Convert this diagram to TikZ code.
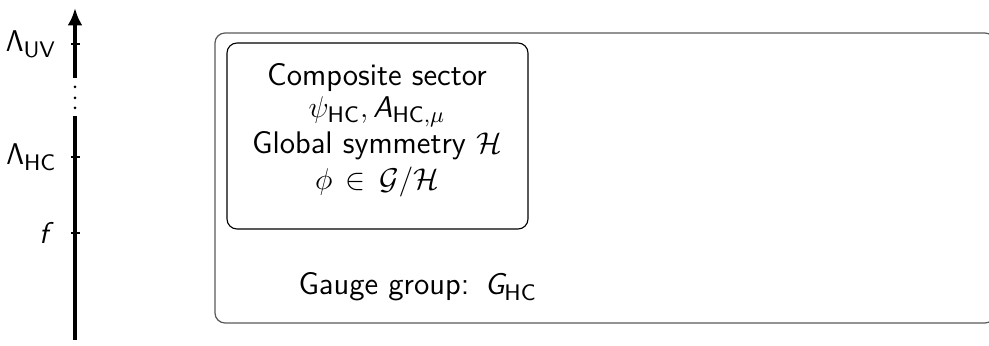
\documentclass[tikz,border=0pt]{standalone}
\usetikzlibrary{arrows.meta}
\renewcommand{\familydefault}{\sfdefault}
\DeclareMathAlphabet{\mathsfit}{OT1}{cmss}{m}{sl}
\newcommand{\hcsub}{\mathsf{HC}}
\begin{document}
\begin{tikzpicture}[x=0.4pt,y=-0.4pt,
  every node/.style={font=\fontsize{12.5}{15}\selectfont},
  scaleline/.style={line width=1.7pt},
  tickmark/.style={line width=0.45pt},
  scalelabel/.style={anchor=east, inner sep=0pt},
  outerbox/.style={draw=black!65, line width=0.5pt, rounded corners=4pt},
  innerbox/.style={draw=black, line width=0.45pt, rounded corners=4pt, align=center, inner sep=0pt}]
\useasboundingbox (0,0) rectangle (989,346);

% energy scale
\coordinate (bot) at (75,340);
\coordinate (gapL) at (75,116);
\coordinate (gapU) at (75,78);
\coordinate (top) at (75,8);
\draw[scaleline] (bot) -- (gapL);
\draw[scaleline, -{Latex[length=7pt,width=6pt]}] (gapU) -- (top);
\foreach \yy in {87,98,108} \fill (75,\yy) circle (0.6pt);

\foreach \yy/\nm in {44/uv,157/hc,233/ff} {
  \coordinate (\nm) at (75,\yy);
  \draw[tickmark] (71,\yy) -- (80,\yy);
}
\node[scalelabel] (luv) at (57,44) {$\mathsf{\Lambda}_{\mathsf{UV}}$};
\node[scalelabel] (lhc) at (57,157) {$\mathsf{\Lambda}_{\hcsub}$};
\node[scalelabel] (lf) at (55,233) {$\mathsfit{f}$};

% boxes
\draw[outerbox] (215,33) rectangle (995,323);
\draw[innerbox] (227,43) rectangle (528,229);
\node (comp) at (377,78) {Composite sector};
\node (fields) at (377,112) {$\psi_{\hcsub}, \mathsfit{A}_{\hcsub,\mu}$};
\node (glob) at (377,146) {Global symmetry $\mathcal{H}$};
\node (coset) at (377,182) {$\phi\,\in\,\mathcal{G}/\mathcal{H}$};
\node[anchor=west, inner sep=0pt] (gauge) at (298,287) {Gauge group:\enspace$\mathsfit{G}_{\hcsub}$};
\end{tikzpicture}
\end{document}
